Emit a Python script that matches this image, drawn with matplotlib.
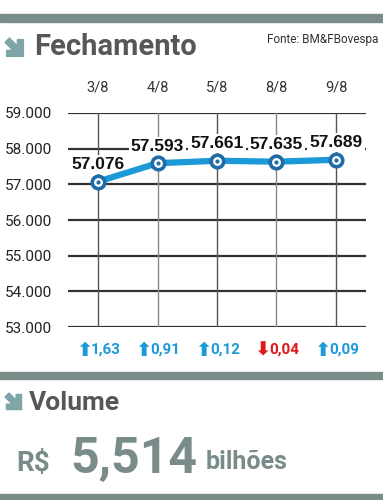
import matplotlib
matplotlib.use("Agg")
import matplotlib.pyplot as plt
from matplotlib.patches import Rectangle, Polygon

dates = ["3/8", "4/8", "5/8", "8/8", "9/8"]
closes = [57076, 57593, 57661, 57635, 57689]
close_labels = ["57.076", "57.593", "57.661", "57.635", "57.689"]
changes = ["1,63", "0,91", "0,12", "0,04", "0,09"]
directions = ["up", "up", "up", "down", "up"]
yticks = [53000, 54000, 55000, 56000, 57000, 58000, 59000]
ytick_labels = ["53.000", "54.000", "55.000", "56.000", "57.000", "58.000", "59.000"]
volume_text = "5,514"

W, H = 383, 500
fig = plt.figure(figsize=(W / 100, H / 100), dpi=100)
fig.patch.set_facecolor("white")

GRAY = "#798c8a"
TITLE = "#555759"
ICON = "#80a5a8"
BLUE = "#1b9ad7"
DKBLUE = "#1f6ca8"
RED = "#e2151b"
FONT = ["Roboto", "DejaVu Sans"]

def fx(px):
    return px / W

def fy(py):
    return 1 - py / H

for y0, y1 in [(14, 22), (372, 379), (494, 500)]:
    fig.patches.append(Rectangle((0, fy(y1)), 1, (y1 - y0) / H, transform=fig.transFigure,
                                 color=GRAY, zorder=0))

def icon(x0, y0, s):
    pts = [(0.0, 0.22), (0.22, 0.0), (0.62, 0.40), (0.62, 0.08), (0.92, 0.08),
           (0.92, 0.92), (0.08, 0.92), (0.08, 0.62), (0.40, 0.62)]
    poly = [(fx(x0 + px * s), fy(y0 + py * s)) for px, py in pts]
    fig.patches.append(Polygon(poly, closed=True, transform=fig.transFigure, color=ICON, zorder=2))

icon(5, 38, 20)
fig.text(fx(34), fy(47), "Fechamento", fontsize=21, fontweight="bold", color=TITLE,
         family=FONT, va="center", ha="left")
fig.text(fx(378), fy(40), "Fonte: BM&FBovespa", fontsize=8.5, color="#333333",
         family=FONT, va="center", ha="right")

icon(5, 393, 18)
fig.text(fx(29), fy(403), "Volume", fontsize=19, fontweight="bold", color=TITLE,
         family=FONT, va="center", ha="left")
fig.text(fx(16), fy(464), "R$", fontsize=20, fontweight="bold", color=GRAY,
         family=FONT, va="center", ha="left")
fig.text(fx(70), fy(460), volume_text, fontsize=36, fontweight="bold", color=GRAY,
         family=FONT, va="center", ha="left")
fig.text(fx(206), fy(462), "bilhões", fontsize=18, fontweight="bold", color=GRAY,
         family=FONT, va="center", ha="left")

ax_l, ax_r, ax_t, ax_b = 68, 366, 113, 327
ax = fig.add_axes([fx(ax_l), fy(ax_b), (ax_r - ax_l) / W, (ax_b - ax_t) / H])
ax.set_facecolor("none")
x = list(range(len(dates)))
ax.set_xlim(-0.505, len(dates) - 1 + 0.505)
ax.set_ylim(yticks[0], yticks[-1])
for s in ax.spines.values():
    s.set_visible(False)
ax.set_yticks(yticks)
ax.set_yticklabels(ytick_labels)
ax.tick_params(axis="y", length=0, pad=11.5, labelsize=11, labelcolor="#222222")
for t in ax.get_yticklabels():
    t.set_family(FONT)
ax.set_xticks([])
for yt in yticks:
    ax.axhline(yt, color="#333333", lw=1.6, zorder=1)
for i in x:
    ax.axvline(i, color="#555555" if i % 2 == 0 else "#888888", lw=1.0, zorder=1)

for i, d in zip(x, dates):
    ax.annotate(d, (i, 1), xycoords=("data", "axes fraction"), xytext=(0, 25),
                textcoords="offset pixels", ha="center", va="center", fontsize=10.5,
                color="#333333", family=FONT)

ax.plot(x, closes, color=BLUE, lw=4.5, zorder=3, solid_capstyle="round")
ax.plot(x, closes, "o", ms=9, mfc="white", mec=DKBLUE, mew=2.6, zorder=4)
ax.plot(x, closes, "o", ms=2, mfc=DKBLUE, mec=DKBLUE, zorder=5)

for i, (v, lab) in enumerate(zip(closes, close_labels)):
    ax.annotate(lab, (i, v), xytext=(0, 17), textcoords="offset pixels", ha="center",
                va="center", fontsize=12.5, fontweight="bold", color="#111111",
                family=["Liberation Sans", "DejaVu Sans"],
                bbox=dict(boxstyle="square,pad=0.12", fc="white", ec="none"), zorder=2.5)

for i, (c, d) in enumerate(zip(changes, directions)):
    col = BLUE if d == "up" else RED
    arrow = "\u2b06" if d == "up" else "\u2b07"
    ax.annotate(arrow, (i, 0), xycoords=("data", "axes fraction"), xytext=(-14, -23),
                textcoords="offset pixels", ha="center", va="center", fontsize=14,
                fontweight="bold", color=col, family=["DejaVu Sans"])
    ax.annotate(c, (i, 0), xycoords=("data", "axes fraction"), xytext=(-7, -23),
                textcoords="offset pixels", ha="left", va="center", fontsize=11,
                fontweight="bold", color=col, family=FONT)

fig.savefig("out.png", dpi=100, facecolor="white")
